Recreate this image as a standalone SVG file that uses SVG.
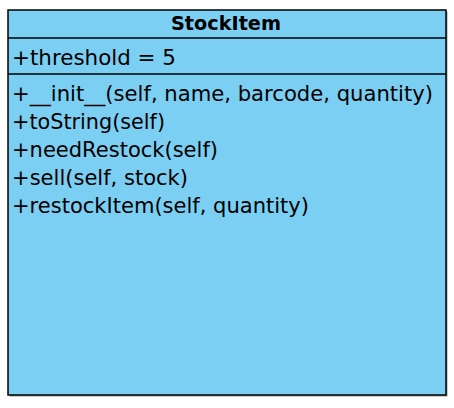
<svg xmlns="http://www.w3.org/2000/svg" width="454" height="408" viewBox="0 0 454 408">
<style>
.t{font-family:"DejaVu Sans",sans-serif;font-size:21px;fill:#000}
.b{font-weight:bold;font-size:20px}
.ln{stroke:#000;stroke-width:1.5}
</style>
<rect width="454" height="408" fill="#fff"/>
<g id="StockItem">
<rect x="9.5" y="11.5" width="438" height="385" fill="#555" opacity="0.6"/>
<rect x="8" y="10" width="438" height="385" fill="#7bcff3" stroke="#000" stroke-width="1.5"/>
<line class="ln" x1="8" y1="38" x2="446" y2="38"/>
<line class="ln" x1="8" y1="74" x2="446" y2="74"/>
<text class="t b" x="171" y="30" textLength="110" lengthAdjust="spacingAndGlyphs">StockItem</text>
<text class="t" x="12" y="65" textLength="164" lengthAdjust="spacingAndGlyphs">+threshold = 5</text>
<text class="t" x="12" y="101" textLength="421" lengthAdjust="spacingAndGlyphs">+__init__(self, name, barcode, quantity)</text>
<text class="t" x="12" y="129" textLength="153" lengthAdjust="spacingAndGlyphs">+toString(self)</text>
<text class="t" x="12" y="157" textLength="206" lengthAdjust="spacingAndGlyphs">+needRestock(self)</text>
<text class="t" x="12" y="185" textLength="176" lengthAdjust="spacingAndGlyphs">+sell(self, stock)</text>
<text class="t" x="12" y="212.5" textLength="297" lengthAdjust="spacingAndGlyphs">+restockItem(self, quantity)</text>
</g>
<g id="connectors"/>
</svg>
